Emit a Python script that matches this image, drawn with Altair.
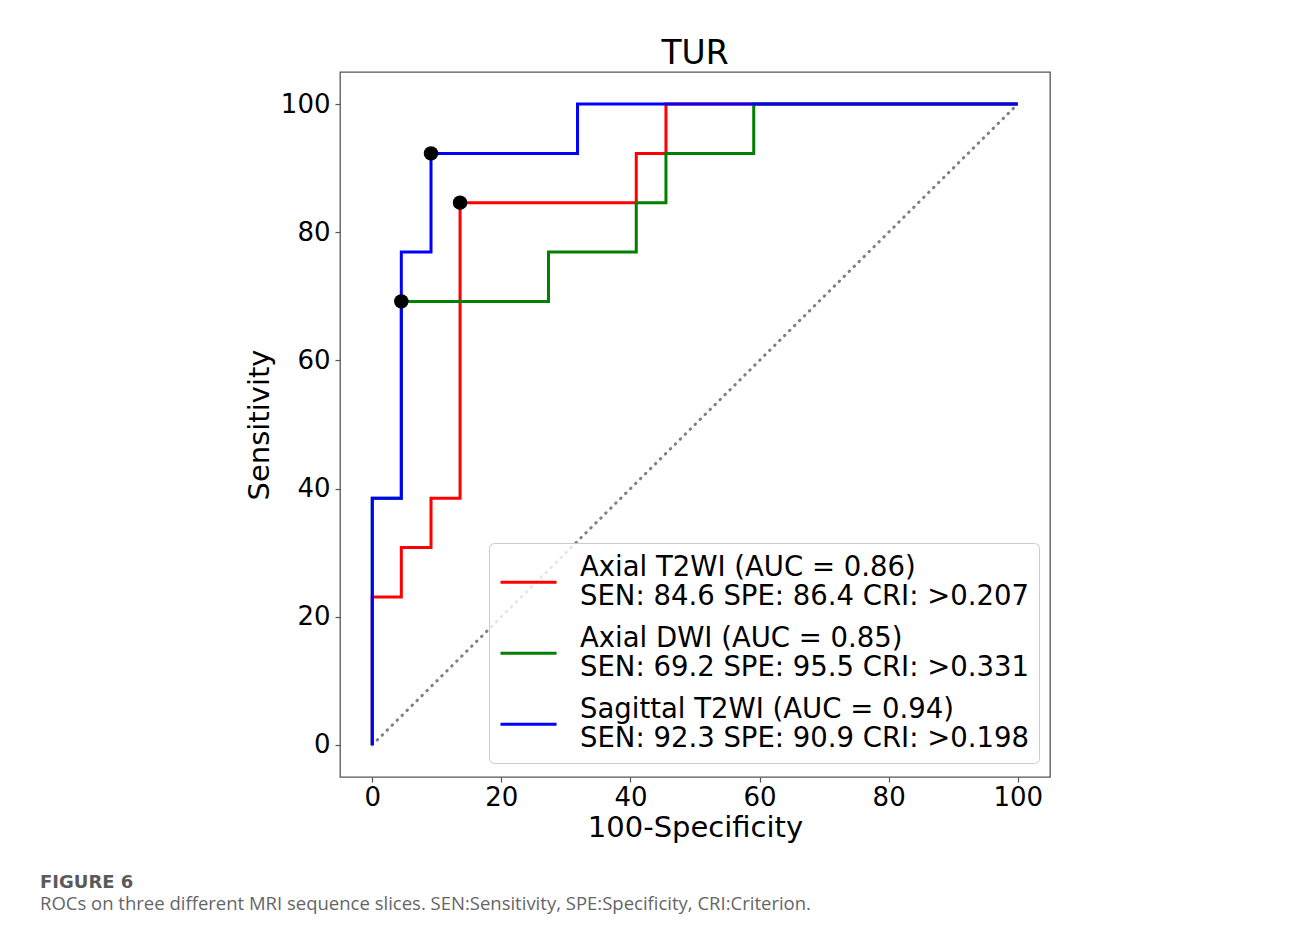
import altair as alt
import pandas as pd

# ---- data ----
series_names = [
    "Axial T2WI (AUC = 0.86)|SEN: 84.6 SPE: 86.4 CRI: >0.207",
    "Axial DWI (AUC = 0.85)|SEN: 69.2 SPE: 95.5 CRI: >0.331",
    "Sagittal T2WI (AUC = 0.94)|SEN: 92.3 SPE: 90.9 CRI: >0.198",
]
series_colors = ["#ff0000", "#008000", "#0000ff"]

red_fpr = [0, 0, 4.5, 4.5, 9.1, 9.1, 13.6, 13.6, 40.9, 40.9, 45.5, 45.5, 100]
red_tpr = [0, 23.1, 23.1, 30.8, 30.8, 38.5, 38.5, 84.6, 84.6, 92.3, 92.3, 100, 100]

green_fpr = [0, 0, 4.5, 4.5, 27.3, 27.3, 40.9, 40.9, 45.5, 45.5, 59.1, 59.1, 100]
green_tpr = [0, 38.5, 38.5, 69.2, 69.2, 76.9, 76.9, 84.6, 84.6, 92.3, 92.3, 100, 100]

blue_fpr = [0, 0, 4.5, 4.5, 9.1, 9.1, 31.8, 31.8, 100]
blue_tpr = [0, 38.5, 38.5, 76.9, 76.9, 92.3, 92.3, 100, 100]

opt_fpr = [13.6, 4.5, 9.1]
opt_tpr = [84.6, 69.2, 92.3]

diag_x = [0, 100]
diag_y = [0, 100]

tick_values = [0, 20, 40, 60, 80, 100]

caption_head = "FIGURE 6"
caption_body = "ROCs on three different MRI sequence slices. SEN:Sensitivity, SPE:Specificity, CRI:Criterion."

# ---- build tables ----
rows = []
for name, xs, ys in zip(series_names, [red_fpr, green_fpr, blue_fpr], [red_tpr, green_tpr, blue_tpr]):
    for i, (a, b) in enumerate(zip(xs, ys)):
        rows.append({"series": name, "fpr": a, "tpr": b, "order": i})
curves = pd.DataFrame(rows)
diag = pd.DataFrame({"fpr": diag_x, "tpr": diag_y})
opt = pd.DataFrame({"fpr": opt_fpr, "tpr": opt_tpr})

FONT = "DejaVu Sans"

xscale = alt.Scale(domain=[-5, 105], nice=False, zero=False)
yscale = alt.Scale(domain=[-5, 105], nice=False, zero=False)

axis_common = dict(
    values=tick_values, tickSize=5, tickColor="#555555", tickWidth=1.2,
    domain=False, grid=False, labelFontSize=26, titleFontSize=29,
    labelFont=FONT, titleFont=FONT, labelColor="black", titleColor="black",
    titleFontWeight="normal",
)
xaxis = alt.Axis(title="100-Specificity", titlePadding=3, labelPadding=2, **axis_common)
yaxis = alt.Axis(title="Sensitivity", titlePadding=6, labelPadding=5, **axis_common)

color_scale = alt.Scale(domain=series_names, range=series_colors)
legend = alt.Legend(
    title=None, orient="none", legendX=149, legendY=471,
    symbolType="M-1,1.13L3.31,1.13", symbolSize=676, symbolStrokeWidth=3,
    labelFontSize=27.5, labelFont=FONT, labelColor="black", labelLimit=0,
    labelExpr="split(datum.label, '|')", labelOffset=52,
    padding=10, fillColor="rgba(255,255,255,0.8)", strokeColor="#cccccc",
    cornerRadius=5, rowPadding=13,
)

base = alt.Chart(curves)

diag_layer = alt.Chart(diag).mark_line(
    color="#808080", strokeWidth=3, strokeDash=[0.5, 6.5], strokeCap="round"
).encode(x=alt.X("fpr:Q", scale=xscale, axis=xaxis), y=alt.Y("tpr:Q", scale=yscale, axis=yaxis))

line_layers = []
for name in series_names:
    line_layers.append(
        base.transform_filter(alt.datum.series == name).mark_line(strokeWidth=3).encode(
            x=alt.X("fpr:Q", scale=xscale, axis=xaxis),
            y=alt.Y("tpr:Q", scale=yscale, axis=yaxis),
            color=alt.Color("series:N", scale=color_scale, legend=legend),
            order="order:Q",
        )
    )

pts = alt.Chart(opt).mark_point(filled=True, color="black", size=210, opacity=1).encode(
    x=alt.X("fpr:Q", scale=xscale), y=alt.Y("tpr:Q", scale=yscale)
)

cap1 = alt.Chart(pd.DataFrame({"t": [caption_head]})).mark_text(
    align="left", baseline="alphabetic", x=-300, y=816, fontSize=18,
    font="DejaVu Sans", fontWeight="bold", color="#5a5a5a"
).encode(text="t:N")
cap2 = alt.Chart(pd.DataFrame({"t": [caption_body]})).mark_text(
    align="left", baseline="alphabetic", x=-300, y=838, fontSize=18.5,
    font="Open Sans", color="#666666"
).encode(text="t:N")

chart = alt.layer(diag_layer, *line_layers, pts, cap1, cap2).properties(
    width=710, height=705,
    title=alt.TitleParams("TUR", fontSize=33, font=FONT, fontWeight="normal", color="black", offset=1),
    autosize=alt.AutoSizeParams(type="none"),
    padding={"left": 332, "top": 64, "right": 225, "bottom": 150},
    background="white",
).configure_view(stroke="#555555", strokeWidth=1.3)

chart.save("out.html", embed_options={"renderer": "svg", "actions": False})
